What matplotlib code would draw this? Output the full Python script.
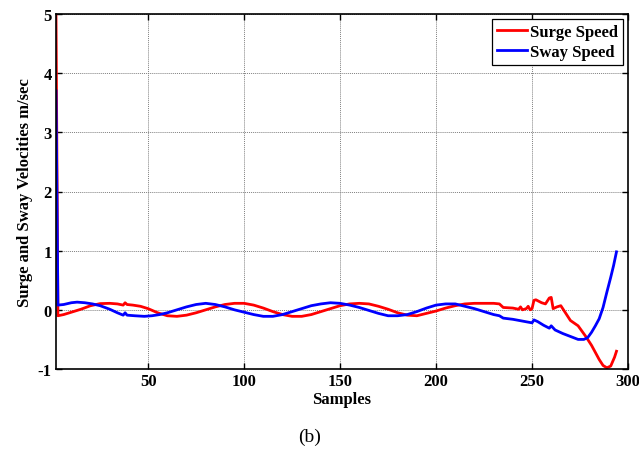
"""
Surge and sway velocities over samples (figure b).
"""

import matplotlib
matplotlib.use("Agg")
import matplotlib.pyplot as plt

plt.rcParams["axes.unicode_minus"] = False

# Surge speed (red)
surge_x = [2, 3, 6, 10, 15, 20, 25, 30, 34, 37, 38, 39, 42, 46, 50, 55, 60, 65, 70,
           75, 80, 85, 90, 95, 100, 105, 110, 115, 120, 125, 130, 135, 140, 145, 150,
           155, 160, 165, 170, 175, 180, 185, 190, 195, 200, 205, 210, 215, 220, 225,
           230, 233, 235, 240, 243, 244, 245, 247, 248, 249, 250, 251, 252, 255, 257,
           259, 260, 261, 263, 265, 267, 270, 274, 278, 281, 283, 285, 287, 289, 291,
           293, 294]
surge_y = [5.0, -0.10, -0.08, -0.04, 0.01, 0.07, 0.105, 0.11, 0.10, 0.08, 0.12, 0.09,
           0.08, 0.06, 0.02, -0.05, -0.10, -0.11, -0.09, -0.05, 0.0, 0.05, 0.09, 0.11,
           0.11, 0.08, 0.03, -0.03, -0.08, -0.11, -0.11, -0.08, -0.03, 0.02, 0.07, 0.10,
           0.11, 0.10, 0.06, 0.01, -0.05, -0.09, -0.10, -0.06, -0.02, 0.03, 0.07, 0.10,
           0.11, 0.11, 0.11, 0.10, 0.04, 0.03, 0.01, 0.05, 0.0, 0.02, 0.06, 0.0, 0.02,
           0.16, 0.17, 0.12, 0.10, 0.20, 0.21, 0.02, 0.05, 0.07, -0.03, -0.18, -0.27,
           -0.45, -0.60, -0.72, -0.84, -0.94, -0.98, -0.95, -0.80, -0.70]

# Sway speed (blue)
sway_x = [2, 3, 6, 10, 13, 17, 21, 25, 30, 34, 37, 38, 39, 43, 48, 52, 56, 60, 65, 70,
          75, 80, 85, 90, 95, 100, 105, 110, 115, 120, 125, 130, 135, 140, 145, 150,
          155, 160, 165, 170, 175, 180, 185, 190, 195, 200, 205, 210, 215, 220, 225,
          230, 233, 235, 240, 245, 250, 251, 253, 256, 259, 260, 262, 266, 270, 274,
          277, 279, 281, 283, 285, 287, 289, 291, 292.5, 294]
sway_y = [3.7, 0.08, 0.09, 0.12, 0.13, 0.12, 0.10, 0.07, 0.01, -0.05, -0.09, -0.05,
          -0.09, -0.10, -0.11, -0.10, -0.08, -0.05, 0.0, 0.05, 0.09, 0.11, 0.09, 0.05,
          0.0, -0.04, -0.08, -0.11, -0.11, -0.08, -0.03, 0.02, 0.07, 0.10, 0.12, 0.11,
          0.08, 0.04, -0.01, -0.06, -0.10, -0.10, -0.08, -0.03, 0.03, 0.08, 0.10, 0.10,
          0.06, 0.02, -0.03, -0.08, -0.10, -0.14, -0.16, -0.19, -0.22, -0.17, -0.20,
          -0.26, -0.31, -0.27, -0.34, -0.40, -0.45, -0.50, -0.50, -0.47, -0.38, -0.27,
          -0.15, 0.04, 0.30, 0.55, 0.75, 0.98]

x_ticks = [50, 100, 150, 200, 250, 300]
y_ticks = [-1, 0, 1, 2, 3, 4, 5]

SERIF = "Liberation Serif"

fig = plt.figure(figsize=(6.39, 4.52), dpi=100)
ax = fig.add_axes([56 / 639, 1 - 370 / 452, 572 / 639, 355 / 452])

ax.plot(surge_x, surge_y, color="#ff0000", linewidth=2.0, label="Surge Speed")
ax.plot(sway_x, sway_y, color="#0000ff", linewidth=2.0, label="Sway Speed")

ax.set_xlim(2, 300)
ax.set_ylim(-1, 5)
ax.set_xticks(x_ticks)
ax.set_yticks(y_ticks)
ax.grid(True, linestyle=(0, (1, 1)), color="#808080", linewidth=0.7)
ax.tick_params(direction="in", top=True, right=True, length=4, width=1, pad=3)
for lab in ax.get_xticklabels() + ax.get_yticklabels():
    lab.set_fontfamily(SERIF)
    lab.set_fontweight("bold")
    lab.set_fontsize(12)
for sp in ax.spines.values():
    sp.set_linewidth(1.2)

ax.set_xlabel("Samples", fontfamily=SERIF, fontweight="bold", fontsize=12)
ax.xaxis.set_label_coords(0.5, -0.062)
ax.set_ylabel("Surge and Sway Velocities m/sec", fontfamily=SERIF,
              fontweight="bold", fontsize=12)
ax.yaxis.set_label_coords(-0.040, 0.5)

leg = ax.legend(loc="upper right", prop={"family": SERIF, "weight": "bold", "size": 12},
                fancybox=False, edgecolor="black", framealpha=1, handlelength=1.8,
                handletextpad=0.2, borderpad=0.3, labelspacing=0.25,
                borderaxespad=0.3)
leg.get_frame().set_linewidth(0.9)

fig.text(310 / 639, 0.033, "(b)", fontfamily=SERIF, fontsize=14,
         ha="center", va="center")

fig.savefig("out.png", dpi=100)
